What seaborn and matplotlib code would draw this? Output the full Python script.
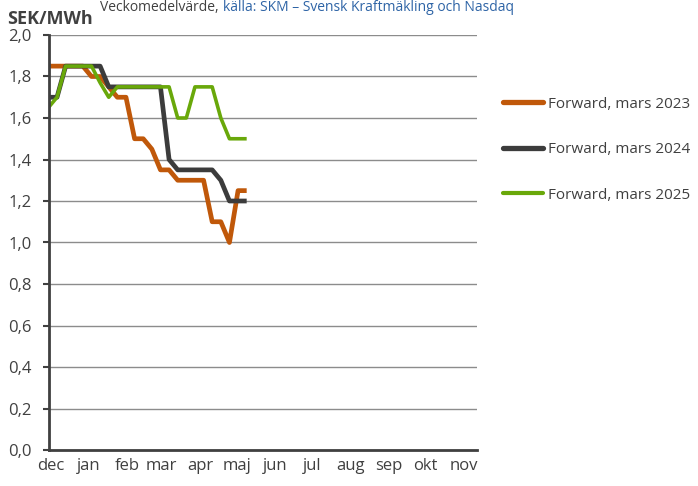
import matplotlib
matplotlib.use("Agg")
import matplotlib.pyplot as plt
import seaborn as sns
import pandas as pd
from matplotlib.lines import Line2D

# ---- data ----
start_date = "2022-11-29"
n_weeks = 24
series_names = ["Forward, mars 2023", "Forward, mars 2024", "Forward, mars 2025"]
fwd_2023 = [1.85, 1.85, 1.85, 1.85, 1.85, 1.80, 1.80, 1.75, 1.70, 1.70, 1.50, 1.50,
            1.45, 1.35, 1.35, 1.30, 1.30, 1.30, 1.30, 1.10, 1.10, 1.00, 1.25, 1.25]
fwd_2024 = [1.70, 1.70, 1.85, 1.85, 1.85, 1.85, 1.85, 1.75, 1.75, 1.75, 1.75, 1.75,
            1.75, 1.75, 1.40, 1.35, 1.35, 1.35, 1.35, 1.35, 1.30, 1.20, 1.20, 1.20]
fwd_2025 = [1.65, 1.70, 1.85, 1.85, 1.85, 1.85, 1.77, 1.70, 1.75, 1.75, 1.75, 1.75,
            1.75, 1.75, 1.75, 1.60, 1.60, 1.75, 1.75, 1.75, 1.60, 1.50, 1.50, 1.50]
month_labels = ["dec", "jan", "feb", "mar", "apr", "maj", "jun", "jul", "aug", "sep", "okt", "nov"]
month_starts = pd.date_range("2022-12-01", periods=12, freq="MS")
y_ticks = [0.0, 0.2, 0.4, 0.6, 0.8, 1.0, 1.2, 1.4, 1.6, 1.8, 2.0]
y_tick_labels = ["0,0", "0,2", "0,4", "0,6", "0,8", "1,0", "1,2", "1,4", "1,6", "1,8", "2,0"]

dates = pd.date_range(start_date, periods=n_weeks, freq="7D")
df = pd.concat([
    pd.DataFrame({"datum": dates, "pris": vals, "serie": name})
    for name, vals in zip(series_names, [fwd_2023, fwd_2024, fwd_2025])
], ignore_index=True)

colors = {"Forward, mars 2023": "#C0580A",
          "Forward, mars 2024": "#3C3C3C",
          "Forward, mars 2025": "#69A80A"}
widths = {"Forward, mars 2023": 3.4, "Forward, mars 2024": 3.4, "Forward, mars 2025": 2.6}

sns.set_style("white")
plt.rcParams["font.family"] = ["Open Sans", "DejaVu Sans"]
text_color = "#404040"

fig = plt.figure(figsize=(6.98, 4.86), dpi=100)
ax = fig.add_axes([49/698, 1-450/486, (477-49)/698, (450-35)/486])

sns.lineplot(data=df, x="datum", y="pris", hue="serie", palette=colors,
             ax=ax, legend=False, sort=False)
for line, name in zip(ax.get_lines(), series_names):
    line.set_linewidth(widths[name])
    line.set_solid_joinstyle("round")
    line.set_solid_capstyle("butt")

ax.set_xlim(pd.Timestamp("2022-11-29 12:00"), pd.Timestamp("2023-11-12"))
ax.set_ylim(0, 2.0)
ax.set_yticks(y_ticks)
ax.set_yticklabels(y_tick_labels)
ax.set_xticks(month_starts)
ax.set_xticklabels(month_labels)
ax.set_xlabel("")
ax.set_ylabel("")

ax.grid(axis="y", color="#8C8C8C", linewidth=1.0)
ax.grid(axis="x", visible=False)
ax.set_axisbelow(True)
for s in ["top", "right"]:
    ax.spines[s].set_visible(False)
for s in ["left", "bottom"]:
    ax.spines[s].set_color("#404040")
    ax.spines[s].set_linewidth(2.0)

ax.tick_params(axis="y", direction="out", length=4.5, width=1.5, color="#404040",
               pad=8, labelsize=12, labelcolor=text_color, left=True)
ax.tick_params(axis="x", length=0, pad=6, labelsize=12, labelcolor=text_color)

# legend
handles = [Line2D([0], [0], color=colors[n], linewidth=widths[n] + 0.4, solid_capstyle="round")
           for n in series_names]
fig.legend(handles, series_names, loc="upper left", bbox_to_anchor=(0.710, 0.817),
           frameon=False, fontsize=11, handlelength=2.6, handletextpad=0.3,
           labelspacing=2.0, borderpad=0, labelcolor=text_color)

fig.text(7/698, 1-24/486, "SEK/MWh", fontsize=13, fontweight="bold", color="#404040",
         ha="left", va="baseline")
t1 = fig.text(100/698, 1-11/486, "Veckomedelvärde,", fontsize=10, color="#404040",
              ha="left", va="baseline")
fig.canvas.draw()
bb = t1.get_window_extent(renderer=fig.canvas.get_renderer())
x_next = (bb.x1 + 4) / fig.bbox.width
fig.text(x_next, 1-11/486, "källa: SKM – Svensk Kraftmäkling och Nasdaq", fontsize=10,
         color="#2E64A6", ha="left", va="baseline")

fig.savefig("out.png", dpi=100)
